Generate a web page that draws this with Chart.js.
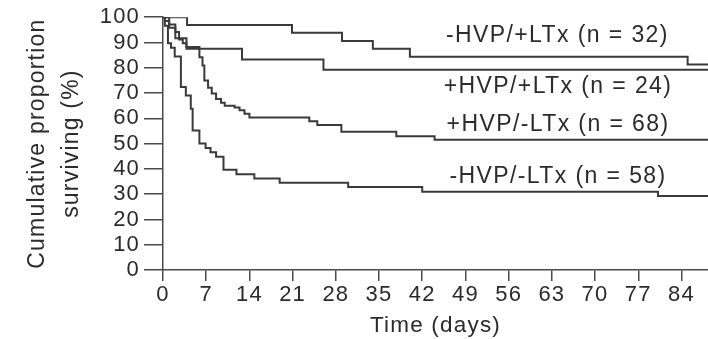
<!DOCTYPE html>
<html>
<head>
<meta charset="utf-8">
<script src="https://cdn.jsdelivr.net/npm/chart.js@4.4.1/dist/chart.umd.min.js"></script>
<style>
  html, body { margin: 0; padding: 0; background: #ffffff; }
  #wrap { width: 708px; height: 339px; }
</style>
</head>
<body>
<div id="wrap"><canvas id="c" width="708" height="339"></canvas></div>
<script>
// ---- data ----
const seriesNames = ["-HVP/+LTx (n = 32)", "+HVP/+LTx (n = 24)", "+HVP/-LTx (n = 68)", "-HVP/-LTx (n = 58)"];

const daysA = [0, 3.9, 20.9, 29.0, 34.0, 40.0, 85.0, 88.3];
const survA = [100, 96.9, 93.8, 90.6, 87.5, 84.4, 81.3, 81.3];

const daysB = [0, 1.0, 2.0, 3.8, 12.8, 26.0, 88.3];
const survB = [100, 95.8, 91.7, 87.5, 83.3, 79.2, 79.2];

const daysC = [0, 0.3, 1.0, 2.0, 2.6, 3.2, 3.8, 5.9, 6.4, 6.7, 7.3, 7.9, 8.6, 9.4, 10.0, 11.6, 12.4, 13.2, 14.0, 23.7, 25.0, 28.9, 37.8, 44.0, 88.3];
const survC = [100, 98.5, 97.1, 94.1, 91.2, 89.7, 88.2, 84.2, 80.9, 75.0, 72.1, 69.8, 67.6, 66.2, 65.0, 64.3, 63.2, 61.8, 60.3, 58.8, 57.4, 54.7, 52.9, 51.5, 51.5];

const daysD = [0, 0.3, 0.8, 1.3, 1.9, 2.9, 3.7, 4.5, 4.8, 5.9, 6.9, 7.7, 8.6, 9.8, 11.9, 14.8, 18.9, 30.0, 42.0, 80.2, 88.3];
const survD = [100, 96.6, 89.7, 87.9, 84.5, 72.4, 69.0, 63.8, 55.2, 50.0, 48.3, 46.6, 44.8, 39.7, 37.9, 36.2, 34.5, 32.8, 31.0, 29.3, 29.3];

const xTickValues = [0, 7, 14, 21, 28, 35, 42, 49, 56, 63, 70, 77, 84];
const yTickValues = [0, 10, 20, 30, 40, 50, 60, 70, 80, 90, 100];
const xMax = 88.3;

// label anchors in data space (day, percent)
const labelDays = [63.9, 64.0, 64.0, 64.0];
const labelPct  = [92.6, 72.6, 57.5, 37.1];

const xTitle = "Time (days)";
const yTitle = ["Cumulative proportion", "surviving (%)"];

// ---- build ----
const FONT = "'Liberation Sans', Arial, Helvetica, sans-serif";
const TXT = "#2b2b2b";
const LINE = "#3a3a3a";
const AX = "#4a4a4a";
const LS = '1.2px';

function pts(d, v) { return d.map((x, i) => ({ x: x, y: v[i] })); }

const spacing = {
  id: 'spacing',
  beforeUpdate(chart) { chart.ctx.letterSpacing = LS; },
  beforeLayout(chart) { chart.ctx.letterSpacing = LS; },
  beforeDraw(chart) { chart.ctx.letterSpacing = LS; }
};

const labels = {
  id: 'seriesLabels',
  afterDatasetsDraw(chart) {
    const ctx = chart.ctx;
    const xs = chart.scales.x, ys = chart.scales.y;
    ctx.save();
    ctx.letterSpacing = '1.4px';
    ctx.font = "23px " + FONT;
    ctx.fillStyle = TXT;
    ctx.textAlign = 'center';
    ctx.textBaseline = 'middle';
    seriesNames.forEach((t, i) => {
      ctx.fillText(t, xs.getPixelForValue(labelDays[i]), ys.getPixelForValue(labelPct[i]));
    });
    ctx.restore();
  }
};

const ds = [[daysA, survA], [daysB, survB], [daysC, survC], [daysD, survD]].map((p, i) => ({
  label: seriesNames[i],
  data: pts(p[0], p[1]),
  borderColor: LINE,
  borderWidth: 2,
  pointRadius: 0,
  fill: false,
  stepped: true,
  tension: 0
}));

new Chart(document.getElementById('c'), {
  type: 'line',
  data: { datasets: ds },
  plugins: [spacing, labels],
  options: {
    responsive: false,
    animation: false,
    devicePixelRatio: 1,
    layout: { padding: { top: 17, right: 0, bottom: 0, left: 0 } },
    plugins: { legend: { display: false }, tooltip: { enabled: false } },
    scales: {
      x: {
        type: 'linear',
        min: 0,
        max: xMax,
        afterBuildTicks(s) { s.ticks = xTickValues.map(v => ({ value: v })); },
        afterFit(s) { s.height = 69; },
        grid: { drawOnChartArea: false, drawTicks: true, tickLength: 11, color: AX, lineWidth: 1.5 },
        border: { display: true, color: AX, width: 1.5 },
        ticks: { color: TXT, font: { family: FONT, size: 22 }, padding: 1, maxRotation: 0, autoSkip: false },
        title: { display: true, text: xTitle, color: TXT, font: { family: FONT, size: 22.5, lineHeight: 1 }, padding: { top: 0, bottom: 2 } }
      },
      y: {
        type: 'linear',
        min: 0,
        max: 100,
        afterBuildTicks(s) { s.ticks = yTickValues.map(v => ({ value: v })); },
        afterFit(s) { s.width = 163; },
        grid: { drawOnChartArea: false, drawTicks: true, tickLength: 19, color: AX, lineWidth: 1.5 },
        border: { display: true, color: AX, width: 1.5 },
        ticks: { color: TXT, font: { family: FONT, size: 22 }, padding: 4, autoSkip: false },
        title: { display: true, text: yTitle, color: TXT, font: { family: FONT, size: 23, lineHeight: 1.48 }, padding: { top: 21, bottom: 0 } }
      }
    }
  }
});
</script>
</body>
</html>
